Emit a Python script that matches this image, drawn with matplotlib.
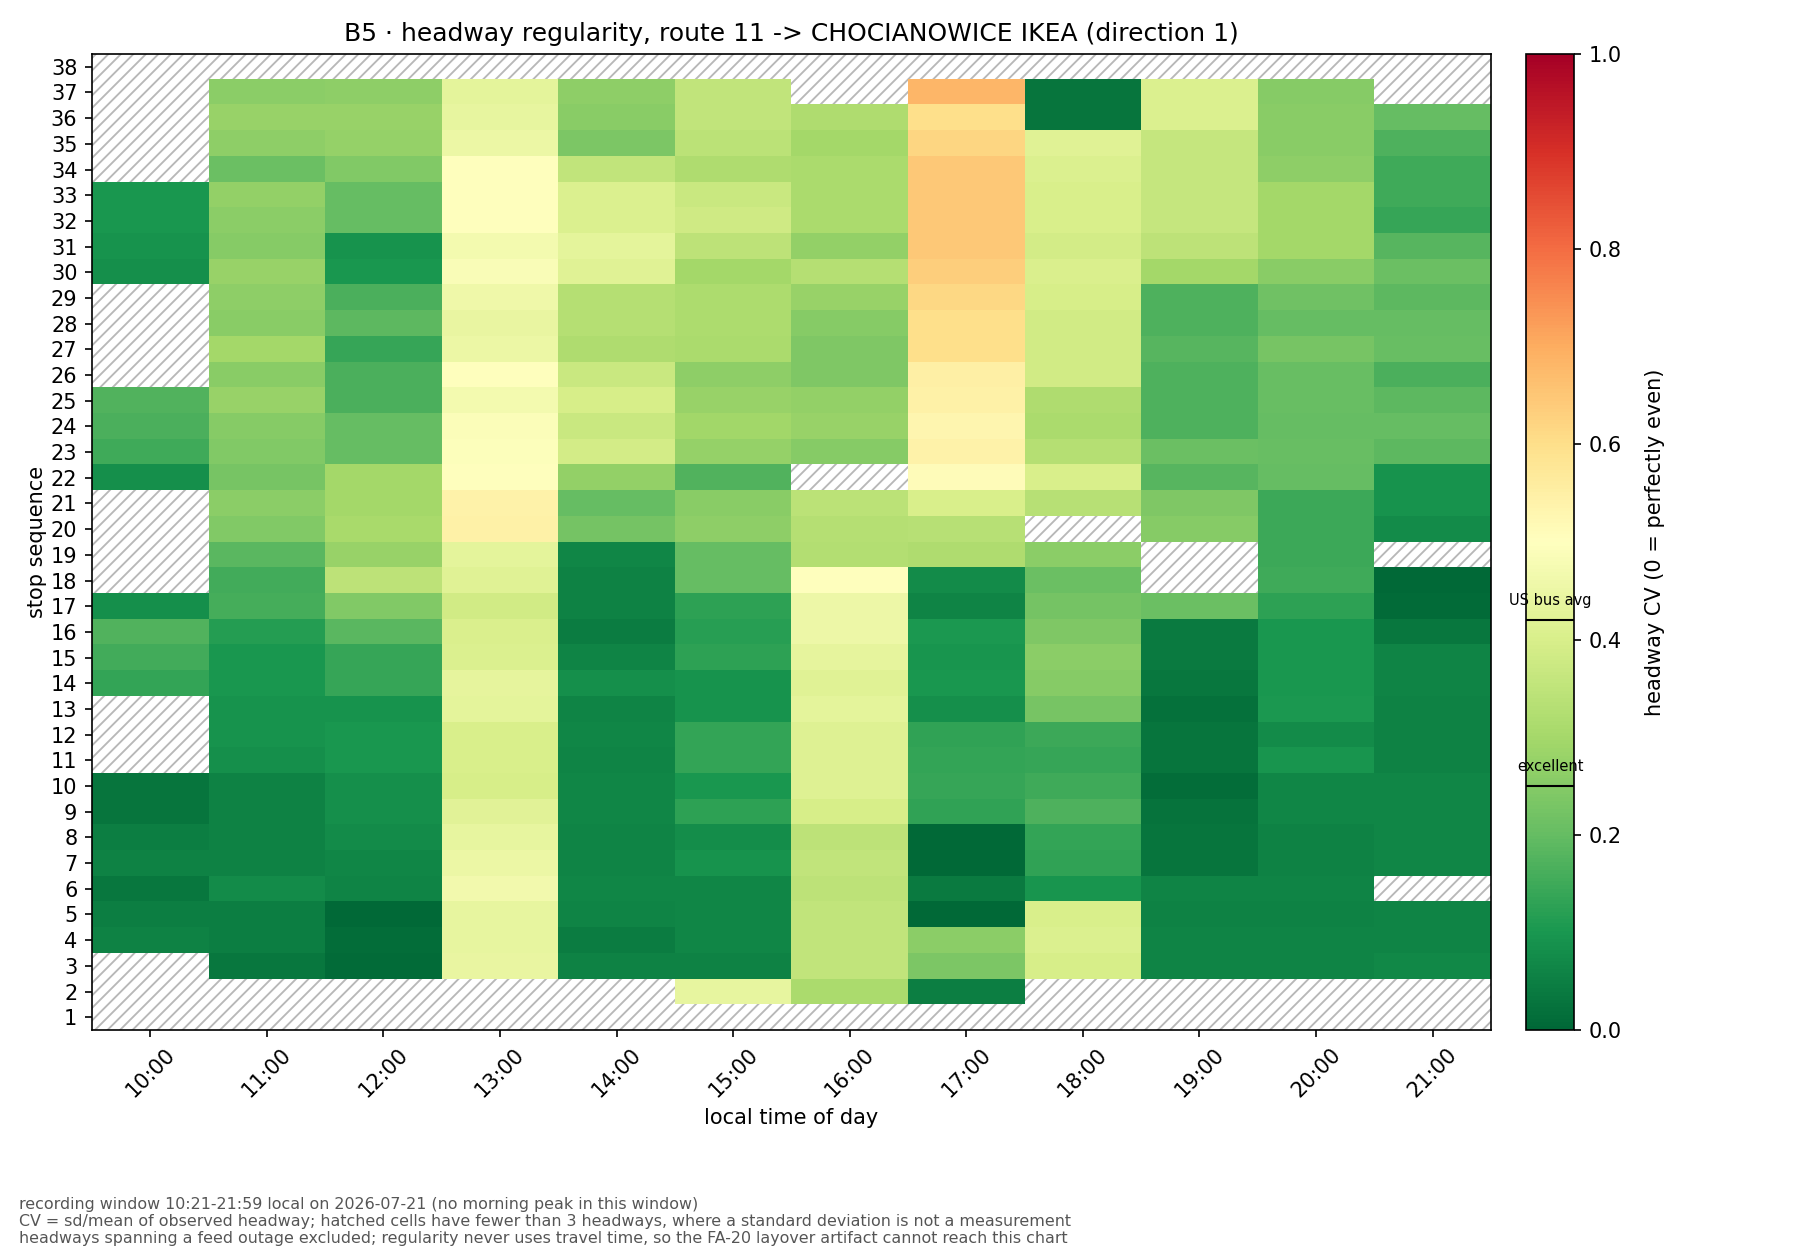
import numpy as np
import matplotlib
matplotlib.use("Agg")
import matplotlib.pyplot as plt
from matplotlib.patches import Rectangle
import matplotlib.transforms as mtransforms

N = None
hours = ["10:00", "11:00", "12:00", "13:00", "14:00", "15:00",
         "16:00", "17:00", "18:00", "19:00", "20:00", "21:00"]
stops = list(range(1, 39))

# headway CV per stop sequence 1..38 for each hour (None = fewer than 3 headways)
cv_10 = [N, N, N, 0.055, 0.05, 0.035, 0.055, 0.05, 0.03, 0.03,
         N, N, N, 0.135, 0.155, 0.175, 0.085, N, N, N,
         N, 0.085, 0.15, 0.165, 0.175, N, N, N, N, 0.085,
         0.09, 0.10, 0.10, N, N, N, N, N]
cv_11 = [N, N, 0.035, 0.05, 0.05, 0.075, 0.055, 0.055, 0.055, 0.055,
         0.085, 0.09, 0.09, 0.10, 0.10, 0.115, 0.16, 0.155, 0.185, 0.245,
         0.26, 0.23, 0.245, 0.25, 0.28, 0.255, 0.30, 0.255, 0.265, 0.28,
         0.25, 0.26, 0.27, 0.21, 0.265, 0.28, 0.26, N]
cv_12 = [N, N, 0.01, 0.015, 0.005, 0.06, 0.065, 0.075, 0.085, 0.085,
         0.10, 0.10, 0.09, 0.14, 0.14, 0.185, 0.245, 0.345, 0.28, 0.305,
         0.30, 0.30, 0.20, 0.20, 0.165, 0.165, 0.14, 0.19, 0.165, 0.10,
         0.09, 0.20, 0.20, 0.245, 0.275, 0.28, 0.265, N]
cv_13 = [N, N, 0.445, 0.44, 0.44, 0.465, 0.45, 0.44, 0.425, 0.395,
         0.40, 0.40, 0.43, 0.435, 0.41, 0.405, 0.385, 0.42, 0.43, 0.545,
         0.54, 0.50, 0.495, 0.49, 0.47, 0.50, 0.45, 0.445, 0.46, 0.485,
         0.47, 0.50, 0.50, 0.50, 0.45, 0.44, 0.43, N]
cv_14 = [N, N, 0.055, 0.045, 0.06, 0.065, 0.06, 0.06, 0.065, 0.065,
         0.06, 0.065, 0.06, 0.085, 0.06, 0.045, 0.055, 0.055, 0.065, 0.225,
         0.20, 0.27, 0.39, 0.37, 0.395, 0.37, 0.32, 0.33, 0.33, 0.42,
         0.43, 0.41, 0.41, 0.355, 0.235, 0.255, 0.265, N]
cv_15 = [N, 0.44, 0.055, 0.065, 0.065, 0.065, 0.09, 0.08, 0.125, 0.10,
         0.135, 0.135, 0.09, 0.09, 0.125, 0.12, 0.125, 0.20, 0.20, 0.265,
         0.255, 0.175, 0.275, 0.295, 0.28, 0.265, 0.31, 0.315, 0.315, 0.30,
         0.345, 0.38, 0.37, 0.32, 0.34, 0.355, 0.355, N]
cv_16 = [N, 0.31, 0.355, 0.355, 0.355, 0.345, 0.355, 0.345, 0.395, 0.415,
         0.415, 0.415, 0.43, 0.42, 0.435, 0.455, 0.455, 0.50, 0.325, 0.33,
         0.34, N, 0.25, 0.28, 0.27, 0.24, 0.24, 0.25, 0.28, 0.33,
         0.27, 0.31, 0.31, 0.31, 0.30, 0.32, N, N]
cv_17 = [N, 0.05, 0.235, 0.26, 0.005, 0.04, 0.005, 0.005, 0.13, 0.14,
         0.135, 0.13, 0.085, 0.10, 0.095, 0.105, 0.06, 0.075, 0.32, 0.335,
         0.40, 0.51, 0.54, 0.53, 0.545, 0.55, 0.60, 0.60, 0.615, 0.635,
         0.645, 0.645, 0.645, 0.645, 0.62, 0.60, 0.68, N]
cv_18 = [N, N, 0.395, 0.41, 0.40, 0.095, 0.13, 0.135, 0.17, 0.15,
         0.14, 0.145, 0.23, 0.25, 0.26, 0.24, 0.225, 0.21, 0.26, N,
         0.335, 0.40, 0.33, 0.31, 0.32, 0.385, 0.385, 0.385, 0.395, 0.405,
         0.39, 0.40, 0.40, 0.41, 0.42, 0.03, 0.03, N]
cv_19 = [N, N, 0.06, 0.06, 0.055, 0.06, 0.03, 0.03, 0.025, 0.015,
         0.03, 0.03, 0.02, 0.035, 0.04, 0.04, 0.21, N, N, 0.25,
         0.24, 0.18, 0.21, 0.17, 0.17, 0.17, 0.18, 0.17, 0.17, 0.30,
         0.345, 0.36, 0.36, 0.36, 0.36, 0.41, 0.41, N]
cv_20 = [N, N, 0.06, 0.06, 0.055, 0.06, 0.055, 0.055, 0.065, 0.065,
         0.095, 0.075, 0.105, 0.10, 0.10, 0.10, 0.125, 0.15, 0.145, 0.145,
         0.145, 0.20, 0.205, 0.20, 0.205, 0.205, 0.23, 0.20, 0.215, 0.255,
         0.30, 0.30, 0.30, 0.265, 0.255, 0.255, 0.25, N]
cv_21 = [N, N, 0.07, 0.06, 0.06, N, 0.065, 0.065, 0.065, 0.065,
         0.055, 0.055, 0.055, 0.06, 0.06, 0.035, 0.01, 0.005, N, 0.075,
         0.09, 0.09, 0.19, 0.20, 0.19, 0.165, 0.205, 0.20, 0.19, 0.21,
         0.18, 0.14, 0.15, 0.15, 0.17, 0.20, N, N]

columns = [cv_10, cv_11, cv_12, cv_13, cv_14, cv_15,
           cv_16, cv_17, cv_18, cv_19, cv_20, cv_21]
data = np.array([[np.nan if v is None else v for v in col] for col in columns],
                dtype=float).T  # rows = stops, cols = hours

ref_lines = [(0.42, "US bus avg"), (0.25, "excellent")]

footer = ("recording window 10:21-21:59 local on 2026-07-21 (no morning peak in this window)\n"
          "CV = sd/mean of observed headway; hatched cells have fewer than 3 headways, "
          "where a standard deviation is not a measurement\n"
          "headways spanning a feed outage excluded; regularity never uses travel time, "
          "so the FA-20 layover artifact cannot reach this chart")

plt.rcParams["hatch.color"] = "#b8b8b8"
plt.rcParams["hatch.linewidth"] = 0.9

fig = plt.figure(figsize=(12, 8.36), dpi=150)
ax = fig.add_axes([0.0511, 0.1786, 0.7772, 0.7784])
cax = fig.add_axes([0.8478, 0.1786, 0.0267, 0.7784])

nx, ny = len(hours), len(stops)
bg = Rectangle((-0.5, 0.5), nx, ny, hatch="////", fill=False,
               edgecolor="#b8b8b8", linewidth=0, zorder=0)
ax.add_patch(bg)

im = ax.imshow(data, origin="lower", aspect="auto", cmap="RdYlGn_r",
               vmin=0, vmax=1, interpolation="nearest",
               extent=(-0.5, nx - 0.5, 0.5, ny + 0.5), zorder=1)
ax.set_xlim(-0.5, nx - 0.5)
ax.set_ylim(0.5, ny + 0.5)
ax.set_xticks(range(nx))
ax.set_xticklabels(hours, rotation=45)
ax.set_yticks(stops)
ax.set_yticklabels([str(s) for s in stops])
ax.set_xlabel("local time of day", labelpad=3)
ax.set_ylabel("stop sequence", labelpad=2)
ax.set_title("B5 \u00b7 headway regularity, route 11 -> CHOCIANOWICE IKEA (direction 1)",
             fontsize=12)

cb = fig.colorbar(im, cax=cax)
cb.set_label("headway CV (0 = perfectly even)", labelpad=11)
trans = mtransforms.blended_transform_factory(cax.transAxes, cax.transData)
for val, lab in ref_lines:
    cax.axhline(val, color="black", linewidth=1)
    cax.text(0.5, val + 0.012, lab, transform=trans, ha="center", va="bottom",
             fontsize=7)

fig.text(0.0105, 0.006, footer, fontsize=7.6, color="#555555",
         ha="left", va="bottom")

fig.savefig("out.png", dpi=150)
